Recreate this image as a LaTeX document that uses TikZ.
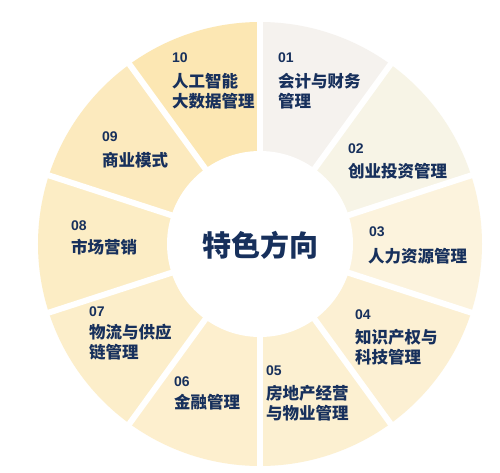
\documentclass[tikz,border=0pt]{standalone}
\usepackage{fontspec}
\newfontfamily\cjk{Noto Sans CJK SC}
\newfontfamily\numfont{Liberation Sans}
\definecolor{navy}{HTML}{17305C}
\definecolor{c1}{HTML}{F5F2EE}
\definecolor{c2}{HTML}{F7F4E6}
\definecolor{c3}{HTML}{FCF3DD}
\definecolor{c4}{HTML}{FCF0D3}
\definecolor{c5}{HTML}{FCF0D1}
\definecolor{c6}{HTML}{FDEFCE}
\definecolor{c7}{HTML}{FCEECA}
\definecolor{c8}{HTML}{FCEDC5}
\definecolor{c9}{HTML}{FCEABE}
\definecolor{c10}{HTML}{FCE7B3}
\begin{document}
\begin{tikzpicture}[x=1pt,y=1pt,
  num/.style={anchor=west, inner sep=0pt, text=navy, font=\numfont\bfseries\fontsize{14}{14}\selectfont},
  lab/.style={anchor=west, inner sep=0pt, align=left, text=navy, font=\cjk\bfseries\fontsize{16.5}{20}\selectfont},
  gapline/.style={draw=white, line width=6pt},
  sector/.style={draw=none}]
\useasboundingbox (-260,-228) rectangle (240,244);
\fill[white] (-260,-228) rectangle (240,244);
\foreach \i/\c in {1/c1,2/c2,3/c3,4/c4,5/c5,6/c6,7/c7,8/c8,9/c9,10/c10}{
  \fill[\c] (0,0) -- ({90-36*\i}:222) arc[start angle={90-36*\i}, end angle={126-36*\i}, radius=222] -- cycle;
}
\foreach \i in {0,...,9}{
  \draw[gapline] (0,0) -- ({90-36*\i}:232);
}
\fill[white] (0,0) circle[radius=93];
\node[text=navy, font=\cjk\bfseries\fontsize{29}{29}\selectfont] (center) at (0,-1) {特色方向};

\node[num] (n10) at (-88,186) {10};
\node[lab] (l10) at (-88,153) {人工智能\\大数据管理};
\node[num] (n01) at (18,186) {01};
\node[lab] (l01) at (18,153) {会计与财务\\管理};
\node[num] (n02) at (88,95) {02};
\node[lab] (l02) at (88,73) {创业投资管理};
\node[num] (n03) at (109,12) {03};
\node[lab] (l03) at (108,-12) {人力资源管理};
\node[num] (n04) at (95,-71) {04};
\node[lab] (l04) at (95,-103) {知识产权与\\科技管理};
\node[num] (n05) at (6,-127) {05};
\node[lab] (l05) at (6,-159) {房地产经营\\与物业管理};
\node[num] (n06) at (-86,-138) {06};
\node[lab] (l06) at (-86,-158) {金融管理};
\node[num] (n07) at (-171,-68) {07};
\node[lab] (l07) at (-171,-98.5) {物流与供应\\链管理};
\node[num] (n08) at (-189,18) {08};
\node[lab] (l08) at (-189,-3) {市场营销};
\node[num] (n09) at (-158,107) {09};
\node[lab] (l09) at (-158,84) {商业模式};
\end{tikzpicture}
\end{document}
